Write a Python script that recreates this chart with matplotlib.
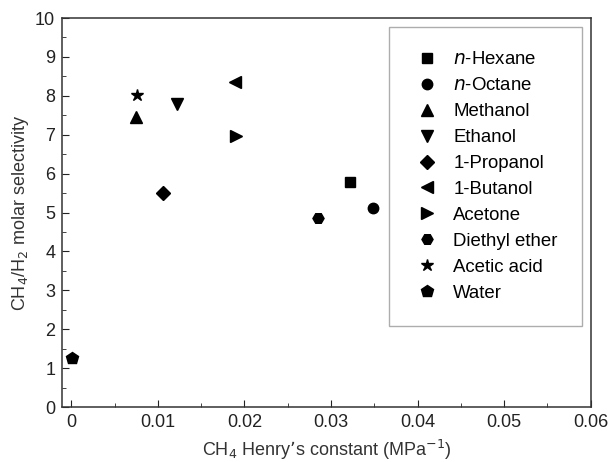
import matplotlib.pyplot as plt
from matplotlib.ticker import MultipleLocator

plt.rcParams['font.family'] = ['Liberation Sans', 'DejaVu Sans']

# Solvent data: CH4 Henry's constant vs CH4/H2 selectivity
labels = ['$\\it{n}$-Hexane', '$\\it{n}$-Octane', 'Methanol', 'Ethanol', '1-Propanol',
          '1-Butanol', 'Acetone', 'Diethyl ether', 'Acetic acid', 'Water']
henry = [0.0322, 0.0348, 0.0075, 0.0122, 0.0106, 0.0189, 0.0190, 0.0285, 0.0076, 0.0001]
selectivity = [5.78, 5.12, 7.45, 7.80, 5.50, 8.35, 6.97, 4.86, 8.03, 1.27]
markers = ['s', 'o', '^', 'v', 'D', '<', '>', 'H', '*', 'p']
sizes = [7, 7.5, 9, 9, 7, 9, 9, 8, 9, 9]

fig = plt.figure(figsize=(6.09, 4.62), dpi=100)
ax = fig.add_axes([0.102, 0.119, 0.868, 0.842])

for x, y, m, s, lab in zip(henry, selectivity, markers, sizes, labels):
    ax.plot(x, y, linestyle='none', marker=m, markersize=s, color='black', label=lab)

ax.set_xlim(-0.00105, 0.06)
ax.set_ylim(0, 10)
ax.xaxis.set_major_locator(MultipleLocator(0.01))
ax.xaxis.set_minor_locator(MultipleLocator(0.005))
ax.yaxis.set_major_locator(MultipleLocator(1))
ax.yaxis.set_minor_locator(MultipleLocator(0.5))
ax.set_xticks([0, 0.01, 0.02, 0.03, 0.04, 0.05, 0.06])
ax.set_xticklabels(['0', '0.01', '0.02', '0.03', '0.04', '0.05', '0.06'])
ax.tick_params(which='both', direction='in', labelsize=13, colors='#222222')
ax.tick_params(which='major', length=5, pad=5)
ax.tick_params(which='minor', length=3)
for sp in ax.spines.values():
    sp.set_linewidth(1.1)
    sp.set_color('#333333')

ax.set_xlabel("CH$_4$ Henry\u2019s constant (MPa$^{\u22121}$)", fontsize=13, color='#333333', labelpad=5)
ax.set_ylabel("CH$_4$/H$_2$ molar selectivity", fontsize=13, color='#333333', labelpad=3)

leg = ax.legend(loc='upper right', bbox_to_anchor=(0.983, 0.977), fontsize=13.4,
                frameon=True, fancybox=False, edgecolor='#999999', borderpad=1.3,
                labelspacing=0.48, handletextpad=0.65, borderaxespad=0, handlelength=1.5)
leg.get_frame().set_linewidth(1.0)

fig.savefig('out.png', dpi=100)
